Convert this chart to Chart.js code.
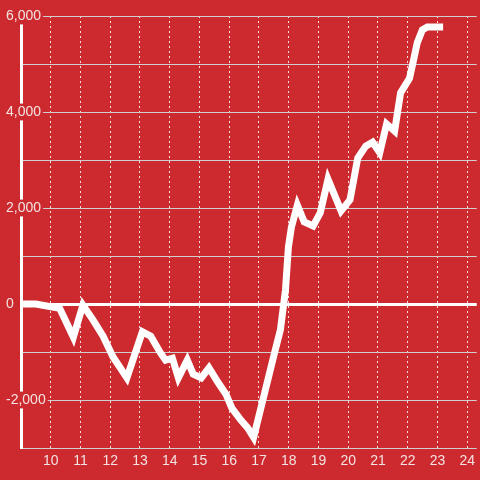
<!DOCTYPE html>
<html>
<head>
<meta charset="utf-8">
<script src="https://cdn.jsdelivr.net/npm/chart.js@4"></script>
<style>
    html, body { margin: 0; padding: 0; background: #cc2a2e; }
    #chart { display: block; }
</style>
</head>
<body>
<canvas id="chart" width="480" height="480"></canvas>
<script>
// hours of the day and running value
const hours = [
    9.0, 9.5, 10.3, 10.76, 11.08, 11.42, 11.76, 12.09, 12.56,
    13.08, 13.36, 13.69, 13.86, 14.09, 14.29, 14.59, 14.79,
    15.06, 15.32, 15.62, 15.89, 16.09, 16.39, 16.62, 16.82,
    17.53, 17.72, 17.89, 17.99, 18.09, 18.29, 18.52, 18.82,
    19.06, 19.32, 19.76, 20.06, 20.32, 20.59, 20.82, 21.06,
    21.29, 21.56, 21.76, 22.06, 22.22, 22.32, 22.49, 22.66, 23.19
];
const values = [
    0, 0, -90, -690, -20, -330, -670, -1100, -1540,
    -580, -670, -1020, -1170, -1130, -1540, -1170, -1460,
    -1540, -1330, -1630, -1880, -2170, -2420, -2580, -2780,
    -1000, -540, 290, 1190, 1600, 2060, 1710, 1625,
    1900, 2600, 1940, 2170, 3040, 3290, 3370, 3150,
    3750, 3600, 4400, 4700, 5150, 5440, 5710, 5770, 5770
];
const xTicks = [10, 11, 12, 13, 14, 15, 16, 17, 18, 19, 20, 21, 22, 23, 24];
const yMin = -3000;
const yMax = 6000;

const RED = '#cc2a2e';
const LABEL = '#f3e2e2';
const FONT = { family: "'Liberation Sans', Arial, sans-serif", size: 14 };

new Chart(document.getElementById('chart'), {
    type: 'line',
    data: {
        datasets: [{
            data: hours.map((h, i) => ({ x: h, y: values[i] })),
            borderColor: '#ffffff',
            borderWidth: 7,
            pointRadius: 0,
            tension: 0,
            fill: false
        }]
    },
    options: {
        responsive: false,
        animation: false,
        layout: { padding: { top: 16, left: 6, right: 0, bottom: 0 } },
        plugins: {
            legend: { display: false },
            tooltip: { enabled: false }
        },
        scales: {
            x: {
                type: 'linear',
                min: 9,
                max: 24.32,
                afterBuildTicks: scale => {
                    scale.ticks = xTicks.map(v => ({ value: v }));
                },
                afterFit: scale => { scale.height = 32; },
                grid: {
                    color: 'rgba(255,255,255,0.85)',
                    lineWidth: 1,
                    drawTicks: false
                },
                border: { display: false, dash: [2, 3] },
                ticks: {
                    color: LABEL,
                    font: FONT,
                    padding: 5,
                    maxRotation: 0,
                    callback: v => String(v)
                }
            },
            y: {
                min: yMin,
                max: yMax,
                afterFit: scale => { scale.width = 15; },
                grid: {
                    color: c => c.tick.value === 0 ? '#ffffff' : '#cfcfcf',
                    lineWidth: c => c.tick.value === 0 ? 3 : 1,
                    drawTicks: false
                },
                border: { display: true, color: '#ffffff', width: 3 },
                ticks: {
                    stepSize: 1000,
                    color: LABEL,
                    font: FONT,
                    mirror: true,
                    padding: -15,
                    callback: v => v % 2000 === 0 ? v.toLocaleString('en-US') : '',
                    showLabelBackdrop: c => c.tick.value % 2000 === 0,
                    backdropColor: RED,
                    backdropPadding: { x: 2, y: 0 }
                }
            }
        }
    }
});
</script>
</body>
</html>
